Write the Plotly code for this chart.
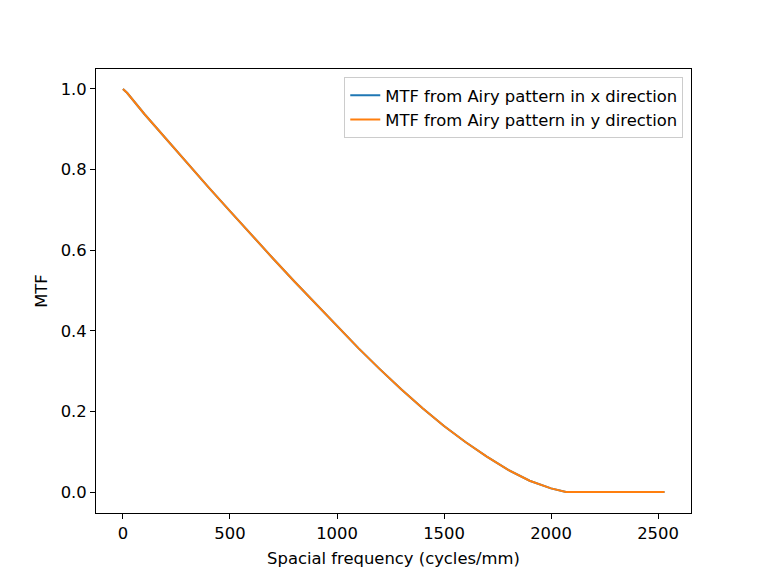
import plotly.graph_objects as go

freq = [0, 20, 100, 200, 300, 400, 500, 600, 700, 800, 900, 1000, 1100, 1200, 1300,
        1400, 1500, 1600, 1700, 1800, 1900, 2000, 2070, 2200, 2300, 2400, 2530]
mtf_x = [1.0, 0.99, 0.938, 0.877, 0.816, 0.756, 0.697, 0.638, 0.580, 0.523, 0.467,
         0.411, 0.357, 0.305, 0.255, 0.208, 0.164, 0.124, 0.088, 0.055, 0.028, 0.009,
         0.0, 0.0, 0.0, 0.0, 0.0]
mtf_y = [1.0, 0.99, 0.938, 0.877, 0.816, 0.756, 0.697, 0.638, 0.580, 0.523, 0.467,
         0.411, 0.357, 0.305, 0.255, 0.208, 0.164, 0.124, 0.088, 0.055, 0.028, 0.009,
         0.0, 0.0, 0.0, 0.0, 0.0]

FS = 16.4

fig = go.Figure()
fig.add_trace(go.Scatter(x=freq, y=mtf_x, mode="lines", line=dict(color="#1f77b4", width=2),
                         name="MTF from Airy pattern in x direction"))
fig.add_trace(go.Scatter(x=freq, y=mtf_y, mode="lines", line=dict(color="#ff7f0e", width=2),
                         name="MTF from Airy pattern in y direction"))

axis_common = dict(showgrid=False, zeroline=False, showline=True, linecolor="black",
                   linewidth=1, mirror=True, ticks="outside", ticklen=5, tickcolor="black",
                   tickfont=dict(size=FS, color="black"))
fig.update_layout(
    width=768, height=576,
    margin=dict(l=96, r=77, t=69, b=63),
    plot_bgcolor="white", paper_bgcolor="white",
    font=dict(family="DejaVu Sans", size=FS, color="black"),
    xaxis=dict(range=[-126, 2654], tickvals=[0, 500, 1000, 1500, 2000, 2500],
               title=dict(text="Spacial frequency (cycles/mm)", font=dict(size=FS), standoff=10),
               **axis_common),
    yaxis=dict(range=[-0.052, 1.0496], tickvals=[0, 0.2, 0.4, 0.6, 0.8, 1.0],
               tickformat=".1f",
               title=dict(text="MTF", font=dict(size=FS), standoff=8),
               **axis_common),
    legend=dict(x=0.987, y=0.982, xanchor="right", yanchor="top",
                bgcolor="rgba(255,255,255,0.8)", bordercolor="#cccccc", borderwidth=1,
                font=dict(size=FS), tracegroupgap=2),
    showlegend=True,
)

fig.write_html("out.html")
